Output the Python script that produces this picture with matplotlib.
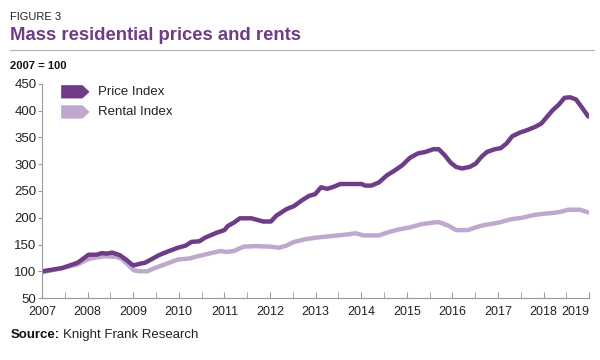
import matplotlib.pyplot as plt
from matplotlib.patches import Polygon
from matplotlib.lines import Line2D

plt.rcParams['font.family'] = ['Liberation Sans', 'DejaVu Sans']

# Price index (year, value)
price_years = [2007.00, 2007.44, 2007.78, 2007.91, 2008.02, 2008.20, 2008.31, 2008.42,
               2008.54, 2008.71, 2008.84, 2008.97, 2009.01, 2009.14, 2009.26, 2009.39,
               2009.56, 2009.73, 2009.98, 2010.15, 2010.28, 2010.45, 2010.58, 2010.83,
               2011.00, 2011.08, 2011.21, 2011.34, 2011.59, 2011.72, 2011.85, 2012.02,
               2012.14, 2012.36, 2012.53, 2012.69, 2012.86, 2012.99, 2013.12, 2013.25,
               2013.37, 2013.54, 2013.71, 2014.01, 2014.09, 2014.22, 2014.39, 2014.56,
               2014.73, 2014.90, 2015.07, 2015.24, 2015.41, 2015.58, 2015.70, 2015.83,
               2015.96, 2016.08, 2016.21, 2016.38, 2016.51, 2016.64, 2016.76, 2016.93,
               2017.06, 2017.19, 2017.31, 2017.48, 2017.65, 2017.82, 2017.95, 2018.08,
               2018.20, 2018.33, 2018.46, 2018.58, 2018.71, 2018.84, 2018.98]
price_vals = [100, 106, 116, 124, 131, 131, 134, 133,
              135, 130, 122, 113, 111, 114, 116, 122,
              130, 136, 144, 148, 155, 156, 163, 172,
              177, 185, 191, 199, 199, 196, 193, 193,
              204, 216, 222, 232, 241, 244, 257, 254,
              257, 263, 263, 263, 260, 260, 266, 279,
              288, 298, 312, 320, 323, 328, 328, 317,
              303, 295, 292, 295, 301, 314, 323, 328,
              330, 339, 352, 359, 364, 370, 376, 389,
              401, 411, 424, 425, 421, 406, 389]

# Rental index (year, value)
rent_years = [2007.00, 2007.44, 2007.78, 2008.02, 2008.20, 2008.37, 2008.63, 2008.75,
              2008.88, 2009.01, 2009.14, 2009.31, 2009.47, 2009.73, 2009.98, 2010.24,
              2010.41, 2010.66, 2010.92, 2011.04, 2011.21, 2011.42, 2011.68, 2012.02,
              2012.19, 2012.36, 2012.53, 2012.78, 2013.03, 2013.37, 2013.71, 2013.88,
              2014.05, 2014.39, 2014.56, 2014.81, 2015.07, 2015.32, 2015.58, 2015.70,
              2015.92, 2016.08, 2016.34, 2016.51, 2016.68, 2017.02, 2017.27, 2017.53,
              2017.78, 2017.95, 2018.20, 2018.37, 2018.54, 2018.80, 2018.98]
rent_vals = [98, 106, 113, 123, 126, 128, 127, 123,
             113, 102, 100, 100, 106, 114, 122, 124,
             128, 133, 138, 136, 138, 146, 147, 146,
             144, 148, 155, 160, 163, 166, 169, 171,
             167, 167, 172, 178, 182, 188, 191, 192,
             185, 177, 177, 182, 186, 191, 197, 200,
             205, 207, 209, 211, 215, 215, 210]

years = list(range(2007, 2020))
yticks = [50, 100, 150, 200, 250, 300, 350, 400, 450]

price_color = '#6f3d88'
rent_color = '#bfa8cd'
axis_color = '#9a9a9a'

fig = plt.figure(figsize=(6, 3.6), dpi=100)
ax = fig.add_axes([0.07, 0.172, 0.912, 0.595])

ax.plot(rent_years, rent_vals, color=rent_color, linewidth=3.2, solid_capstyle='round')
ax.plot(price_years, price_vals, color=price_color, linewidth=3.2, solid_capstyle='round')

ax.set_xlim(2007, 2019)
ax.set_ylim(50, 450)
ax.set_yticks(yticks)
ax.set_xticks(years)
ax.set_xticks([y + 0.5 for y in years[:-1]], minor=True)
ax.set_xticklabels([str(y) for y in years])
lbls = ax.get_xticklabels()
lbls[-1].set_horizontalalignment('right')
lbls[-1].set_x(2019.02)

for s in ['top', 'right']:
    ax.spines[s].set_visible(False)
for s in ['left', 'bottom']:
    ax.spines[s].set_color(axis_color)
    ax.spines[s].set_linewidth(0.8)
ax.tick_params(axis='y', direction='out', length=3, color=axis_color,
               labelsize=9.5, labelcolor='#222222', pad=1)
ax.tick_params(axis='x', which='both', direction='in', length=4, color=axis_color,
               labelsize=9, labelcolor='#222222', pad=6)

# legend with arrow-shaped swatches
for i, (label, col) in enumerate([('Price Index', price_color), ('Rental Index', rent_color)]):
    yc = 0.963 - i * 0.094
    x0, x1, x2, h = 0.035, 0.074, 0.087, 0.031
    poly = Polygon([[x0, yc - h], [x1, yc - h], [x2, yc], [x1, yc + h], [x0, yc + h]],
                   closed=True, transform=ax.transAxes, color=col, lw=0)
    ax.add_patch(poly)
    ax.text(0.102, yc, label, transform=ax.transAxes, fontsize=9.5,
            va='center', ha='left', color='#222222')

fig.text(0.017, 0.953, 'FIGURE 3', fontsize=8, color='#222222', va='center')
fig.text(0.017, 0.9, 'Mass residential prices and rents', fontsize=13.3,
         fontweight='bold', color='#6f3d88', va='center')
fig.add_artist(Line2D([0.017, 0.99], [0.862, 0.862], color='#b0b0b0', lw=0.8))
fig.text(0.017, 0.817, '2007 = 100', fontsize=8, fontweight='bold',
         color='#111111', va='center')
fig.text(0.017, 0.07, 'Source:', fontsize=9.5, fontweight='bold', color='#111111', va='center')
fig.text(0.105, 0.07, 'Knight Frank Research', fontsize=9.5, color='#222222', va='center')

plt.savefig('out.png', dpi=100)
